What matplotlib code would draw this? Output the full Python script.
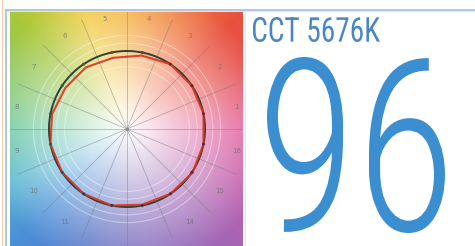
import numpy as np
import matplotlib
matplotlib.use("Agg")
import matplotlib.pyplot as plt
from matplotlib import patheffects
from matplotlib.transforms import Affine2D
from matplotlib.textpath import TextPath
from matplotlib.font_manager import FontProperties
from matplotlib.patches import Rectangle, Circle

## chart values
cct_label = "CCT 5676K"
fidelity = "96"
bin_labels = [str(i) for i in range(1, 17)]
# bins 12 and 13 fall below the cropped square in the picture
hidden_labels = ["12", "13"]
# test / reference chroma ratio per hue bin
test_ratio = [1.00, 1.00, 1.00, 0.96, 0.93, 0.95, 0.95, 0.98,
              1.00, 1.00, 1.00, 1.00, 0.99, 1.00, 1.01, 1.00]

## background hue stops (angle in degrees, colour)
hue_deg = [0, 30, 45, 65, 90, 110, 135, 160, 180, 205, 225, 250, 270, 300, 315, 340, 360]
hue_col = ["#e45c9c", "#e8504a", "#e8503e", "#f07a3c", "#f5b03e", "#f0cc40", "#a8c83a",
           "#88c870", "#6cc8a0", "#5ab8d0", "#4a90d8", "#5a78c8", "#7a70c0", "#9a68b8",
           "#a864b4", "#cc5ea8", "#e45c9c"]

W, H, DPI = 475, 246, 100
px = DPI / 72.0
cx, cy, R = 127.0, 129.0, 78.0
box = (10, 12, 243, 246)  # left, top, right, bottom of the colour square


def hue_rgb(deg):
    cols = np.array([matplotlib.colors.to_rgb(c) for c in hue_col])
    return np.stack([np.interp(deg, hue_deg, cols[:, k]) for k in range(3)], axis=-1)


class Squeeze(patheffects.AbstractPathEffect):
    # narrow the glyphs horizontally around the text origin
    def __init__(self, sx):
        super().__init__()
        self.sx = sx

    def draw_path(self, renderer, gc, tpath, affine, rgbFace=None):
        x0, y0 = affine.transform((0, 0))
        aff = affine + Affine2D().translate(-x0, -y0).scale(self.sx, 1).translate(x0, y0)
        renderer.draw_path(gc, tpath, aff, rgbFace)


def fit_text(ax, s, left, top, right, bottom, family, weight, color):
    prop = FontProperties(family=family, weight=weight)
    ext = TextPath((0, 0), s, size=100, prop=prop).get_extents()
    fs = (bottom - top) / (ext.height / 100.0 * px)
    k = fs / 100.0 * px
    sx = min(1.0, (right - left) / (ext.width * k))
    x0 = left - sx * ext.x0 * k
    base = bottom + ext.y0 * k
    ax.text(x0, base, s, fontsize=fs, family=family, weight=weight, color=color,
            ha="left", va="baseline", path_effects=[Squeeze(sx)])


fig = plt.figure(figsize=(W / DPI, H / DPI), dpi=DPI)
ax = fig.add_axes([0, 0, 1, 1])
ax.set_xlim(0, W)
ax.set_ylim(H, 0)
ax.axis("off")

# colour background
xs = np.arange(box[0], box[2]) + 0.5
ys = np.arange(box[1], box[3]) + 0.5
X, Y = np.meshgrid(xs, ys)
ang = np.degrees(np.arctan2(-(Y - cy), X - cx)) % 360
rad = np.hypot(X - cx, Y - cy)
s = np.clip(rad / 145.0, 0, 1)[..., None]
img = 1 - s * (1 - hue_rgb(ang))
ax.imshow(img, extent=(box[0], box[2], box[3], box[1]), interpolation="bilinear", zorder=1)
clip = Rectangle((box[0], box[1]), box[2] - box[0], box[3] - box[1], transform=ax.transData)

# rings and spokes
for f in [0.8, 0.9, 1.1, 1.2]:
    ax.add_patch(Circle((cx, cy), R * f, fill=False, ec="white", lw=0.8, alpha=0.4, zorder=2))
for k in range(16):
    a = np.radians(k * 22.5)
    ln, = ax.plot([cx, cx + 118 * np.cos(a)], [cy, cy - 118 * np.sin(a)],
                  color="#7a7a7a", lw=0.6, alpha=0.5, zorder=3)
    ln.set_clip_path(clip)

# bin labels
centers = np.radians((np.arange(16) + 0.5) * 22.5)
for i, lab in enumerate(bin_labels):
    if lab in hidden_labels:
        continue
    ax.text(cx + 112 * np.cos(centers[i]), cy - 112 * np.sin(centers[i]), lab, fontsize=5,
            color="#6a6a6a", alpha=0.7, ha="center", va="center", zorder=4)

# reference circle and test polygon
th = np.linspace(0, 2 * np.pi, 400)
ax.plot(cx + R * np.cos(th), cy - R * np.sin(th), color="#2c4234", lw=1.4, zorder=5)
tr = np.array(test_ratio + test_ratio[:1]) * R
tc = np.append(centers, centers[0])
ax.plot(cx + tr * np.cos(tc), cy - tr * np.sin(tc), color="#e0301e", lw=1.5, alpha=0.9, zorder=6)
dot_cols = hue_rgb(np.degrees(centers)) * 0.45
ax.scatter(cx + R * np.cos(centers), cy - R * np.sin(centers), s=5, c=dot_cols, zorder=7, lw=0)
ax.scatter([cx], [cy], s=6, c="#8a8a8a", zorder=7, lw=0)

# frame lines
ax.plot([5.5, W], [9.5, 9.5], color="#a9c1e2", lw=1.3, zorder=8)
ax.plot([5.5, W], [11.2, 11.2], color="#d6e2f2", lw=0.6, zorder=8)
ax.plot([5.5, 5.5], [9.5, H], color="#a9c1e2", lw=1.3, zorder=8)
ax.plot([2.2, 2.2], [0, H], color="#f3cda8", lw=0.8, zorder=8)
ax.plot([245, 245], [11, H], color="#f2dbe6", lw=0.6, zorder=8)

# texts
fit_text(ax, cct_label, 253, 17, 380, 42, "Roboto Condensed", "normal", "#4a86c6")
fit_text(ax, fidelity, 267, 57, 445, 233, "Roboto Condensed", "light", "#3b8ed0")

fig.savefig("out.png", dpi=DPI)
